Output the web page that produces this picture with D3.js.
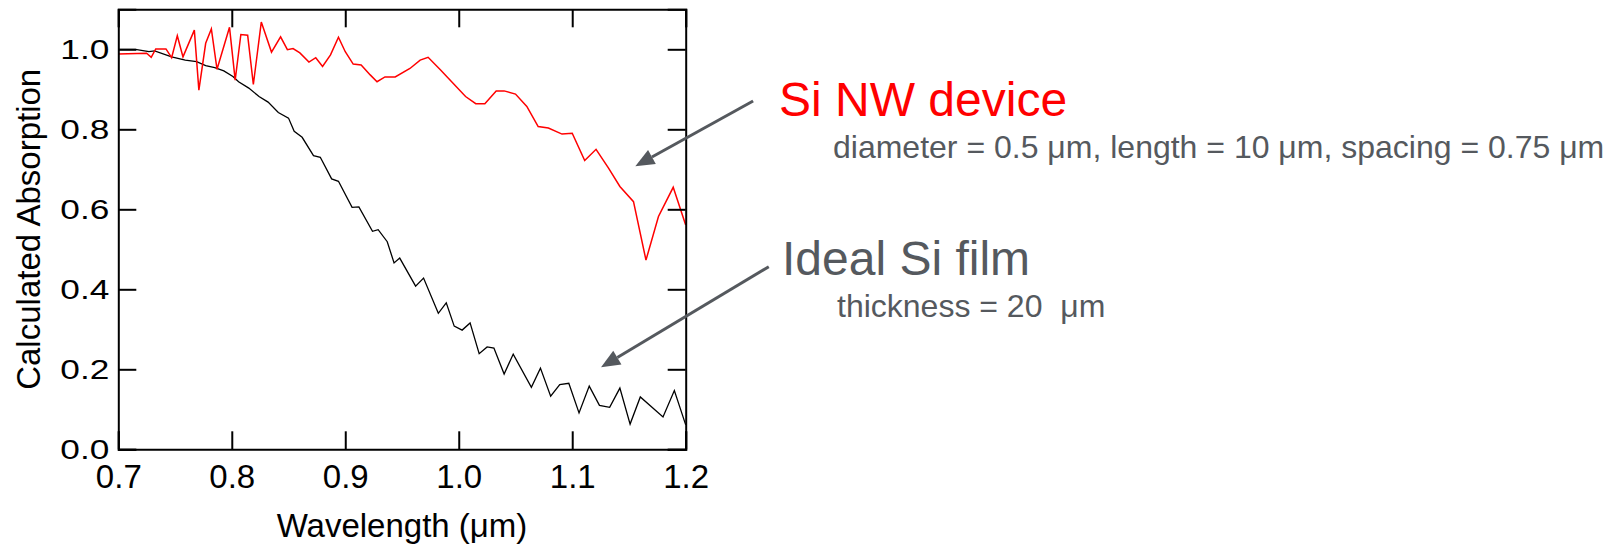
<!DOCTYPE html>
<meta charset="utf-8">
<script src="https://d3js.org/d3.v7.min.js"></script>
<style>
  html, body { margin: 0; padding: 0; background: #fff; }
  svg { font-family: 'Liberation Sans', Arial, sans-serif; }
</style>
<body>
<div id="chart"></div>
<script>

// Si nanowire device (red)
var nwWl = [0.700, 0.725, 0.729, 0.733, 0.742, 0.747, 0.752, 0.757, 0.767, 0.771,
            0.777, 0.782, 0.787, 0.798, 0.803, 0.808, 0.814, 0.819, 0.826, 0.835,
            0.843, 0.849, 0.854, 0.860, 0.868, 0.874, 0.880, 0.887, 0.894, 0.900,
            0.907, 0.914, 0.922, 0.928, 0.935, 0.944, 0.957, 0.966, 0.973, 0.984,
            0.995, 1.006, 1.015, 1.023, 1.033, 1.040, 1.050, 1.060, 1.070, 1.079,
            1.091, 1.100, 1.111, 1.121, 1.132, 1.142, 1.154, 1.165, 1.176, 1.189, 1.200]
var nwAbs = [0.988, 0.990, 0.980, 1.001, 1.001, 0.979, 1.034, 0.981, 1.048, 0.898,
             1.015, 1.051, 0.950, 1.055, 0.923, 1.037, 1.035, 0.912, 1.068, 0.993,
             1.031, 0.999, 1.002, 0.991, 0.968, 0.979, 0.957, 0.986, 1.030, 0.994,
             0.963, 0.961, 0.936, 0.919, 0.931, 0.931, 0.952, 0.973, 0.980, 0.948,
             0.915, 0.882, 0.864, 0.864, 0.896, 0.896, 0.888, 0.857, 0.807, 0.803,
             0.788, 0.790, 0.722, 0.750, 0.703, 0.657, 0.619, 0.473, 0.582, 0.655, 0.561]

// ideal Si film (black)
var filmWl = [0.700, 0.715, 0.727, 0.732, 0.747, 0.759, 0.769, 0.777, 0.785, 0.793,
              0.801, 0.806, 0.815, 0.824, 0.832, 0.841, 0.850, 0.855, 0.862, 0.872,
              0.878, 0.888, 0.894, 0.906, 0.912, 0.924, 0.929, 0.937, 0.943, 0.948,
              0.962, 0.969, 0.982, 0.989, 0.996, 1.003, 1.010, 1.018, 1.025, 1.031,
              1.040, 1.048, 1.064, 1.072, 1.081, 1.089, 1.097, 1.106, 1.115, 1.124,
              1.133, 1.142, 1.151, 1.160, 1.180, 1.190, 1.200]
var filmAbs = [1.000, 1.000, 0.994, 0.996, 0.981, 0.973, 0.969, 0.959, 0.954, 0.946,
               0.932, 0.919, 0.903, 0.882, 0.868, 0.842, 0.828, 0.795, 0.780, 0.734,
               0.730, 0.676, 0.670, 0.605, 0.606, 0.545, 0.549, 0.519, 0.466, 0.478,
               0.408, 0.428, 0.340, 0.366, 0.308, 0.298, 0.316, 0.239, 0.256, 0.253,
               0.188, 0.238, 0.155, 0.203, 0.133, 0.162, 0.165, 0.091, 0.158, 0.110,
               0.105, 0.153, 0.063, 0.131, 0.081, 0.147, 0.061]

var xTicks = [0.7, 0.8, 0.9, 1.0, 1.1, 1.2]
var yTicks = [0.0, 0.2, 0.4, 0.6, 0.8, 1.0]

var width = 1616,
    height = 545

var svg = d3.select("#chart")
  .append("svg")
    .attr("width", width)
    .attr("height", height)

var x = d3.scaleLinear().domain([0.7, 1.2]).range([118.3, 685.7])
var y = d3.scaleLinear().domain([0, 1.1]).range([449.3, 9.3])

var nwData = nwWl.map(function(d, i) { return [d, nwAbs[i]] })
var filmData = filmWl.map(function(d, i) { return [d, filmAbs[i]] })

var line = d3.line()
  .x(function(d) { return x(d[0]) })
  .y(function(d) { return y(d[1]) })

svg.append("path")
  .datum(filmData)
  .attr("d", line)
  .attr("fill", "none")
  .attr("stroke", "#000")
  .attr("stroke-width", 1.3)

svg.append("path")
  .datum(nwData)
  .attr("d", line)
  .attr("fill", "none")
  .attr("stroke", "#ff0000")
  .attr("stroke-width", 1.5)

// axes, ticks pointing inward on all four sides
var xAxis = svg.append("g")
  .attr("transform", "translate(0," + y(0) + ")")
  .call(d3.axisBottom(x).tickValues(xTicks).tickSize(-18).tickPadding(15).tickFormat(d3.format(".1f")))
var xTop = svg.append("g")
  .attr("transform", "translate(0," + y(1.1) + ")")
  .call(d3.axisTop(x).tickValues(xTicks).tickSize(-18).tickFormat(""))
var yAxis = svg.append("g")
  .attr("transform", "translate(" + x(0.7) + ",0)")
  .call(d3.axisLeft(y).tickValues(yTicks).tickSize(-18).tickPadding(9).tickFormat(d3.format(".1f")))
var yRight = svg.append("g")
  .attr("transform", "translate(" + x(1.2) + ",0)")
  .call(d3.axisRight(y).tickValues(yTicks).tickSize(-18).tickFormat(""))

svg.selectAll(".domain").attr("stroke", "#000").attr("stroke-width", 2)
svg.selectAll(".tick line").attr("stroke", "#000").attr("stroke-width", 2)

xAxis.selectAll("text")
  .style("font-size", "33px")
  .attr("fill", "#000")
yAxis.selectAll("text")
  .style("font-size", "28.5px")
  .attr("fill", "#000")
  .attr("textLength", 49)
  .attr("lengthAdjust", "spacingAndGlyphs")

svg.append("text")
  .attr("x", (x(0.7) + x(1.2)) / 2)
  .attr("y", 537)
  .attr("text-anchor", "middle")
  .style("font-size", "33px")
  .text("Wavelength (μm)")

svg.append("text")
  .attr("transform", "translate(40," + (y(0) + y(1.1)) / 2 + ") rotate(-90)")
  .attr("text-anchor", "middle")
  .style("font-size", "33px")
  .text("Calculated Absorption")

// annotations
var grey = "#55595e"

function arrow(x0, y0, x1, y1) {
  var sx = x(x0), sy = y(y0), tx = x(x1), ty = y(y1)
  var dx = tx - sx, dy = ty - sy
  var len = Math.sqrt(dx * dx + dy * dy)
  var ux = dx / len, uy = dy / len
  var headLen = 19, headW = 8
  var bx = tx - ux * headLen, by = ty - uy * headLen
  svg.append("line")
    .attr("x1", sx).attr("y1", sy)
    .attr("x2", bx).attr("y2", by)
    .attr("stroke", grey)
    .attr("stroke-width", 3)
  svg.append("polygon")
    .attr("points", [[tx, ty], [bx - uy * headW, by + ux * headW], [bx + uy * headW, by - ux * headW]].join(" "))
    .attr("fill", grey)
}

arrow(1.2594, 0.8708, 1.1556, 0.7078)
arrow(1.2732, 0.4565, 1.1254, 0.2050)

svg.append("text")
  .attr("x", 779)
  .attr("y", 116)
  .attr("fill", "#ff0000")
  .style("font-size", "48px")
  .text("Si NW device")

svg.append("text")
  .attr("x", 833)
  .attr("y", 158)
  .attr("fill", grey)
  .style("font-size", "32px")
  .text("diameter = 0.5 μm, length = 10 μm, spacing = 0.75 μm")

svg.append("text")
  .attr("x", 782)
  .attr("y", 275)
  .attr("fill", grey)
  .style("font-size", "48px")
  .text("Ideal Si film")

svg.append("text")
  .attr("x", 837)
  .attr("y", 317)
  .attr("fill", grey)
  .style("font-size", "32px")
  .style("white-space", "pre")
  .text("thickness = 20  μm")

</script>
</body>
